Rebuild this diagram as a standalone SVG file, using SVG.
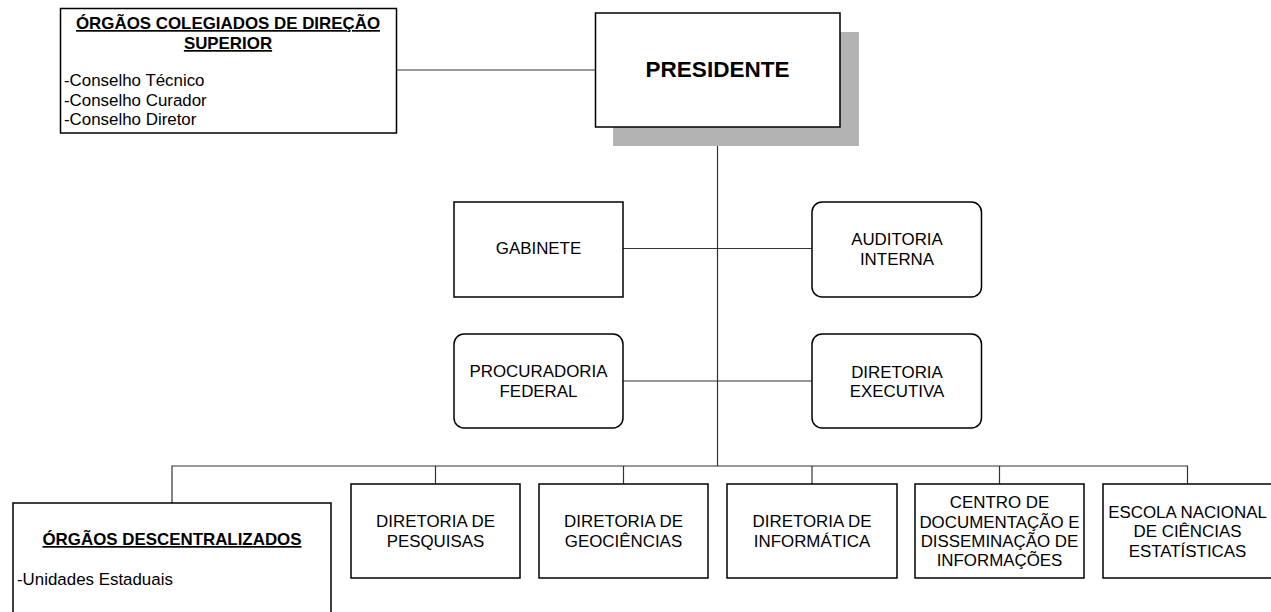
<svg xmlns="http://www.w3.org/2000/svg" width="1271" height="612" viewBox="0 0 1271 612">
<style>
.box{fill:#fff;stroke:#000;stroke-width:1.5}
.ln{fill:none;stroke:#333;stroke-width:1.2}
text{font-family:"Liberation Sans",Arial,sans-serif;font-size:16.9px;fill:#000}
.c{text-anchor:middle}
.b{font-weight:bold}
.u{text-decoration:underline}
</style>
<rect width="1271" height="612" fill="#fff"/>
<g id="connectors">
<line class="ln" x1="397" y1="70" x2="595" y2="70"/>
<line class="ln" x1="717.5" y1="146" x2="717.5" y2="466"/>
<line class="ln" x1="623" y1="248.5" x2="812" y2="248.5"/>
<line class="ln" x1="623" y1="381" x2="812" y2="381"/>
<polyline class="ln" points="172,503 172,466 1187.5,466 1187.5,484"/>
<line class="ln" x1="435.5" y1="466" x2="435.5" y2="484"/>
<line class="ln" x1="623.5" y1="466" x2="623.5" y2="484"/>
<line class="ln" x1="812" y1="466" x2="812" y2="484"/>
<line class="ln" x1="999.5" y1="466" x2="999.5" y2="484"/>
</g>
<g id="colegiados">
<rect class="box" x="60.5" y="8.5" width="336" height="124.5"/>
<text class="c b u" x="228" y="29">ÓRGÃOS COLEGIADOS DE DIREÇÃO</text>
<text class="c b u" x="228" y="49">SUPERIOR</text>
<text x="64" y="86">-Conselho Técnico</text>
<text x="64" y="105.5">-Conselho Curador</text>
<text x="64" y="125">-Conselho Diretor</text>
</g>
<g id="presidente">
<rect x="613" y="32" width="246" height="114" fill="#b3b3b3"/>
<rect class="box" x="595.5" y="13" width="244.5" height="114"/>
<text class="c b" x="717.5" y="77" style="font-size:22.5px">PRESIDENTE</text>
</g>
<g id="gabinete">
<rect class="box" x="454" y="202" width="169" height="95"/>
<text class="c" x="538.5" y="254">GABINETE</text>
</g>
<g id="auditoria">
<rect class="box" x="812" y="202" width="169.5" height="95" rx="10"/>
<text class="c" x="897" y="245">AUDITORIA</text>
<text class="c" x="897" y="265">INTERNA</text>
</g>
<g id="procuradoria">
<rect class="box" x="454" y="334" width="169" height="94" rx="10"/>
<text class="c" x="538.5" y="377">PROCURADORIA</text>
<text class="c" x="538.5" y="397">FEDERAL</text>
</g>
<g id="executiva">
<rect class="box" x="812" y="334" width="169.5" height="94" rx="10"/>
<text class="c" x="897" y="378">DIRETORIA</text>
<text class="c" x="897" y="397">EXECUTIVA</text>
</g>
<g id="descentralizados">
<rect class="box" x="13" y="503" width="318" height="130"/>
<text class="c b u" x="172" y="545">ÓRGÃOS DESCENTRALIZADOS</text>
<text x="17" y="585">-Unidades Estaduais</text>
</g>
<g id="pesquisas">
<rect class="box" x="351" y="484" width="169" height="94"/>
<text class="c" x="435.5" y="527">DIRETORIA DE</text>
<text class="c" x="435.5" y="547">PESQUISAS</text>
</g>
<g id="geociencias">
<rect class="box" x="539" y="484" width="169" height="94"/>
<text class="c" x="623.5" y="527">DIRETORIA DE</text>
<text class="c" x="623.5" y="547">GEOCIÊNCIAS</text>
</g>
<g id="informatica">
<rect class="box" x="727" y="484" width="170" height="94"/>
<text class="c" x="812" y="527">DIRETORIA DE</text>
<text class="c" x="812" y="547">INFORMÁTICA</text>
</g>
<g id="centro">
<rect class="box" x="915" y="484" width="169" height="94"/>
<text class="c" x="999.5" y="508">CENTRO DE</text>
<text class="c" x="999.5" y="528">DOCUMENTAÇÃO E</text>
<text class="c" x="999.5" y="547">DISSEMINAÇÃO DE</text>
<text class="c" x="999.5" y="566">INFORMAÇÕES</text>
</g>
<g id="escola">
<rect class="box" x="1103" y="484" width="169" height="94"/>
<text class="c" x="1187.5" y="518">ESCOLA NACIONAL</text>
<text class="c" x="1187.5" y="537">DE CIÊNCIAS</text>
<text class="c" x="1187.5" y="557">ESTATÍSTICAS</text>
</g>
</svg>
